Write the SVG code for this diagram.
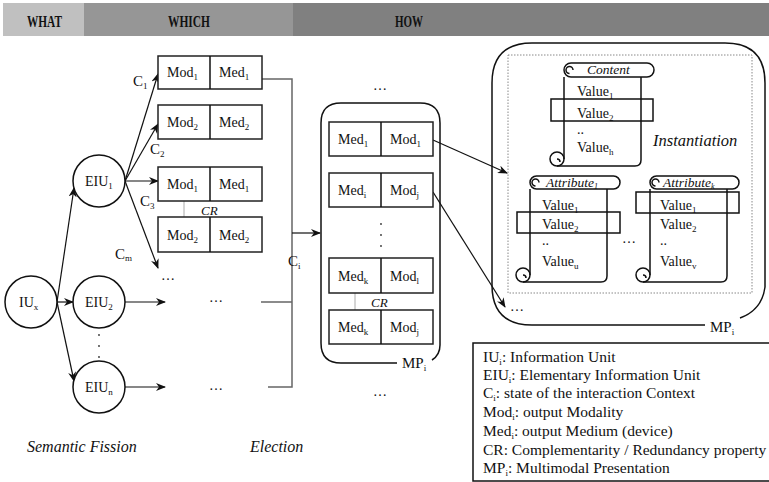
<svg xmlns="http://www.w3.org/2000/svg" width="769" height="482" viewBox="0 0 769 482">
<defs>
<style>
.t{font-family:"Liberation Serif","Times New Roman",serif;font-size:14px;fill:#111}
.hd{font-weight:bold;font-size:17px}
.it{font-style:italic}
.lg{font-size:15.5px}
.s13{font-size:13px}
.s135{font-size:13.5px}
.s15{font-size:15px}
.s16{font-size:16px}
.s165{font-size:16.5px}
.box{fill:#fff;stroke:#222;stroke-width:1.5}
.ln{fill:none;stroke:#111;stroke-width:1.2}
.gl{fill:none;stroke:#666;stroke-width:1.5}
.cr{fill:none;stroke:#aaa;stroke-width:1}
.sc{fill:none;stroke:#111;stroke-width:1.5}
.nd{fill:#fff;stroke:#111;stroke-width:1.5}
</style>
<marker id="ah" viewBox="0 0 10 8" refX="9" refY="4" markerWidth="10" markerHeight="8" markerUnits="userSpaceOnUse" orient="auto"><path d="M0,0 L10,4 L0,8 L3,4 z" fill="#111"/></marker>
</defs>
<rect width="769" height="482" fill="#fff"/>

<g id="header">
<rect x="3" y="3" width="81" height="33" fill="#c0c0c0"/>
<rect x="84" y="3" width="209" height="33" fill="#969696"/>
<rect x="293" y="3" width="476" height="33" fill="#808080"/>
<text class="t hd" x="27" y="27" textLength="35" lengthAdjust="spacingAndGlyphs">WHAT</text>
<text class="t hd" x="168" y="27" textLength="42" lengthAdjust="spacingAndGlyphs">WHICH</text>
<text class="t hd" x="395" y="27" textLength="28" lengthAdjust="spacingAndGlyphs">HOW</text>
</g>

<g id="connectors">
<line class="ln" x1="57" y1="302" x2="74" y2="188" marker-end="url(#ah)"/>
<line class="ln" x1="57" y1="302" x2="73" y2="302" marker-end="url(#ah)"/>
<line class="ln" x1="57" y1="302" x2="74" y2="381" marker-end="url(#ah)"/>
<line class="ln" x1="125" y1="181" x2="158" y2="74" marker-end="url(#ah)"/>
<line class="ln" x1="125" y1="181" x2="158" y2="124" marker-end="url(#ah)"/>
<line class="ln" x1="125" y1="181" x2="158" y2="181" marker-end="url(#ah)"/>
<line class="ln" x1="125" y1="181" x2="158" y2="268" marker-end="url(#ah)"/>
<line class="ln" x1="125" y1="302" x2="165" y2="302" marker-end="url(#ah)"/>
<line class="ln" x1="125" y1="387" x2="165" y2="387" marker-end="url(#ah)"/>
<path class="gl" d="M262,79 H292 V387 H268 M261,302 H292"/>
<line class="ln" x1="292" y1="233" x2="320" y2="233" marker-end="url(#ah)"/>
<line class="ln" x1="433" y1="140" x2="507" y2="173" marker-end="url(#ah)"/>
<line class="ln" x1="433" y1="192" x2="505" y2="307" marker-end="url(#ah)"/>
<line class="cr" x1="184" y1="201" x2="184" y2="217"/>
<line class="cr" x1="355" y1="293" x2="355" y2="310"/>
</g>

<g id="IUx"><circle class="nd" cx="31" cy="302" r="26"/><text class="t" x="19" y="307">IU<tspan font-size="9" dy="3">x</tspan></text></g>
<g id="EIU1"><circle class="nd" cx="99" cy="181" r="26"/><text class="t" x="85" y="186">EIU<tspan font-size="9" dy="3">1</tspan></text></g>
<g id="EIU2"><circle class="nd" cx="99" cy="302" r="26"/><text class="t" x="85" y="307">EIU<tspan font-size="9" dy="3">2</tspan></text></g>
<g id="EIUn"><circle class="nd" cx="99" cy="387" r="26"/><text class="t" x="85" y="392">EIU<tspan font-size="9" dy="3">n</tspan></text></g>
<g id="dots-eiu"><circle cx="99" cy="335" r="0.9" fill="#333"/><circle cx="99" cy="346" r="0.9" fill="#333"/><circle cx="99" cy="357" r="0.9" fill="#333"/></g>

<g id="labels-c">
<text class="t s15" x="133" y="86">C<tspan font-size="9" dy="3">1</tspan></text>
<text class="t s15" x="150" y="154">C<tspan font-size="9" dy="3">2</tspan></text>
<text class="t s15" x="140" y="206">C<tspan font-size="9" dy="3">3</tspan></text>
<text class="t s15" x="115" y="259">C<tspan font-size="9" dy="2">m</tspan></text>
<text class="t s15" x="288" y="266">C<tspan font-size="9" dy="3">i</tspan></text>
<text class="t" x="161" y="280">…</text>
<text class="t" x="209" y="302">…</text>
<text class="t" x="209" y="390">…</text>
</g>

<g id="which-box1"><rect class="box" x="158" y="56" width="104" height="33"/><line class="sc" x1="210" y1="56" x2="210" y2="89"/><text class="t" x="167" y="77">Mod<tspan font-size="9" dy="3">1</tspan></text><text class="t" x="219" y="77">Med<tspan font-size="9" dy="3">1</tspan></text></g>
<g id="which-box2"><rect class="box" x="158" y="105" width="104" height="34"/><line class="sc" x1="210" y1="105" x2="210" y2="139"/><text class="t" x="167" y="127">Mod<tspan font-size="9" dy="3">2</tspan></text><text class="t" x="219" y="127">Med<tspan font-size="9" dy="3">2</tspan></text></g>
<g id="which-box3"><rect class="box" x="158" y="167" width="104" height="34"/><line class="sc" x1="210" y1="167" x2="210" y2="201"/><text class="t" x="167" y="189">Mod<tspan font-size="9" dy="3">1</tspan></text><text class="t" x="219" y="189">Med<tspan font-size="9" dy="3">1</tspan></text></g>
<text class="t it s13" x="201" y="215">CR</text>
<g id="which-box4"><rect class="box" x="158" y="217" width="104" height="35"/><line class="sc" x1="210" y1="217" x2="210" y2="252"/><text class="t" x="167" y="240">Mod<tspan font-size="9" dy="3">2</tspan></text><text class="t" x="219" y="240">Med<tspan font-size="9" dy="3">2</tspan></text></g>

<g id="MP">
<path class="sc" d="M397,363 H341 Q321,363 321,343 V123 Q321,103 341,103 H420 Q440,103 440,123 V345 Q440,355 432,360"/>
<text class="t s15" x="402" y="368">MP<tspan font-size="9" dy="3">i</tspan></text>
<text class="t" x="373" y="90">…</text>
<text class="t" x="373" y="396">…</text>
<rect class="box" x="329" y="122" width="104" height="34"/><line class="sc" x1="381" y1="122" x2="381" y2="156"/>
<text class="t" x="338" y="144">Med<tspan font-size="9" dy="3">1</tspan></text><text class="t" x="390" y="144">Mod<tspan font-size="9" dy="3">1</tspan></text>
<rect class="box" x="329" y="173" width="104" height="34"/><line class="sc" x1="381" y1="173" x2="381" y2="207"/>
<text class="t" x="338" y="195">Med<tspan font-size="9" dy="3">i</tspan></text><text class="t" x="390" y="195">Mod<tspan font-size="9" dy="3">j</tspan></text>
<circle cx="381" cy="224" r="0.9" fill="#333"/><circle cx="381" cy="235" r="0.9" fill="#333"/><circle cx="381" cy="246" r="0.9" fill="#333"/>
<rect class="box" x="329" y="258" width="104" height="35"/><line class="sc" x1="381" y1="258" x2="381" y2="293"/>
<text class="t" x="338" y="281">Med<tspan font-size="9" dy="3">k</tspan></text><text class="t" x="390" y="281">Mod<tspan font-size="9" dy="3">l</tspan></text>
<text class="t it s13" x="371" y="307">CR</text>
<rect class="box" x="329" y="310" width="104" height="34"/><line class="sc" x1="381" y1="310" x2="381" y2="344"/>
<text class="t" x="338" y="332">Med<tspan font-size="9" dy="3">k</tspan></text><text class="t" x="390" y="332">Mod<tspan font-size="9" dy="3">j</tspan></text>
</g>

<g id="HOW">
<path class="sc" d="M705,325 H532 Q492,325 492,285 V83 Q492,43 532,43 H725 Q765,43 765,83 V287 Q762,310 740,318"/>
<text class="t s15" x="710" y="332">MP<tspan font-size="9" dy="3">i</tspan></text>
<rect x="508" y="55" width="244" height="238" fill="none" stroke="#888" stroke-width="1" stroke-dasharray="1.5,1.5"/>
<text class="t" x="510" y="311">…</text>
<text class="t it s165" x="653" y="146">Instantiation</text>
<text class="t" x="622" y="243">…</text>
</g>

<g id="content">
<path class="sc" d="M564,77 V159"/>
<path class="sc" d="M641,77 V160 Q641,166 635,166 H557"/>
<circle class="sc" cx="557" cy="159" r="7"/>
<path class="sc" d="M557,159 a3,3 0 0 1 3,3"/>
<rect x="564" y="63" width="90" height="14" rx="7" fill="#fff" stroke="#111" stroke-width="1.5"/>
<path class="sc" d="M573,70 a3.5,3.5 0 1 0 -3.5,3.5"/>
<text class="t it s135" x="587" y="74">Content</text>
<text class="t" x="577" y="96">Value<tspan font-size="9" dy="3">1</tspan></text>
<text class="t" x="577" y="118">Value<tspan font-size="9" dy="3">2</tspan></text>
<text class="t" x="577" y="134">..</text>
<text class="t" x="577" y="152">Value<tspan font-size="9" dy="3">h</tspan></text>
<rect x="551" y="99" width="102" height="22" fill="none" stroke="#111" stroke-width="1.5"/>
</g>

<g id="attribute1">
<path class="sc" d="M530,189 V275"/>
<path class="sc" d="M607,189 V276 Q607,282 601,282 H523"/>
<circle class="sc" cx="523" cy="275" r="7"/>
<path class="sc" d="M523,275 a3,3 0 0 1 3,3"/>
<rect x="530" y="176" width="90" height="13" rx="6.5" fill="#fff" stroke="#111" stroke-width="1.5"/>
<path class="sc" d="M539,182.5 a3.5,3.5 0 1 0 -3.5,3.5"/>
<text class="t it s135" x="546" y="187">Attribute<tspan font-size="8" dy="2">1</tspan></text>
<text class="t" x="542" y="210">Value<tspan font-size="9" dy="3">1</tspan></text>
<text class="t" x="542" y="229">Value<tspan font-size="9" dy="3">2</tspan></text>
<text class="t" x="542" y="245">..</text>
<text class="t" x="542" y="266">Value<tspan font-size="9" dy="3">u</tspan></text>
<rect x="517" y="212" width="103" height="21" fill="none" stroke="#111" stroke-width="1.5"/>
</g>

<g id="attributek">
<path class="sc" d="M650,189 V275"/>
<path class="sc" d="M727,189 V276 Q727,282 721,282 H643"/>
<circle class="sc" cx="643" cy="275" r="7"/>
<path class="sc" d="M643,275 a3,3 0 0 1 3,3"/>
<rect x="650" y="176" width="89" height="13" rx="6.5" fill="#fff" stroke="#111" stroke-width="1.5"/>
<path class="sc" d="M659,182.5 a3.5,3.5 0 1 0 -3.5,3.5"/>
<text class="t it s135" x="663" y="187">Attribute<tspan font-size="8" dy="2">k</tspan></text>
<text class="t" x="660" y="210">Value<tspan font-size="9" dy="3">1</tspan></text>
<text class="t" x="660" y="229">Value<tspan font-size="9" dy="3">2</tspan></text>
<text class="t" x="660" y="245">..</text>
<text class="t" x="660" y="266">Value<tspan font-size="9" dy="3">v</tspan></text>
<rect x="636" y="192" width="103" height="21" fill="none" stroke="#111" stroke-width="1.5"/>
</g>

<g id="legend">
<rect x="473" y="343" width="310" height="138" fill="#fff" stroke="#111" stroke-width="1.5"/>
<text class="t lg" x="483" y="362">IU<tspan font-size="9" dy="3">i</tspan><tspan dy="-3">: Information Unit</tspan></text>
<text class="t lg" x="483" y="380">EIU<tspan font-size="9" dy="3">i</tspan><tspan dy="-3">: Elementary Information Unit</tspan></text>
<text class="t lg" x="483" y="398">C<tspan font-size="9" dy="3">i</tspan><tspan dy="-3">: state of the interaction Context</tspan></text>
<text class="t lg" x="483" y="417">Mod<tspan font-size="9" dy="3">i</tspan><tspan dy="-3">: output Modality</tspan></text>
<text class="t lg" x="483" y="436">Med<tspan font-size="9" dy="3">i</tspan><tspan dy="-3">: output Medium (device)</tspan></text>
<text class="t lg" x="483" y="455">CR: Complementarity / Redundancy property</text>
<text class="t lg" x="483" y="473">MP<tspan font-size="9" dy="3">i</tspan><tspan dy="-3">: Multimodal Presentation</tspan></text>
</g>

<g id="footer">
<text class="t it s16" x="27" y="452">Semantic Fission</text>
<text class="t it s16" x="250" y="452">Election</text>
</g>
</svg>
